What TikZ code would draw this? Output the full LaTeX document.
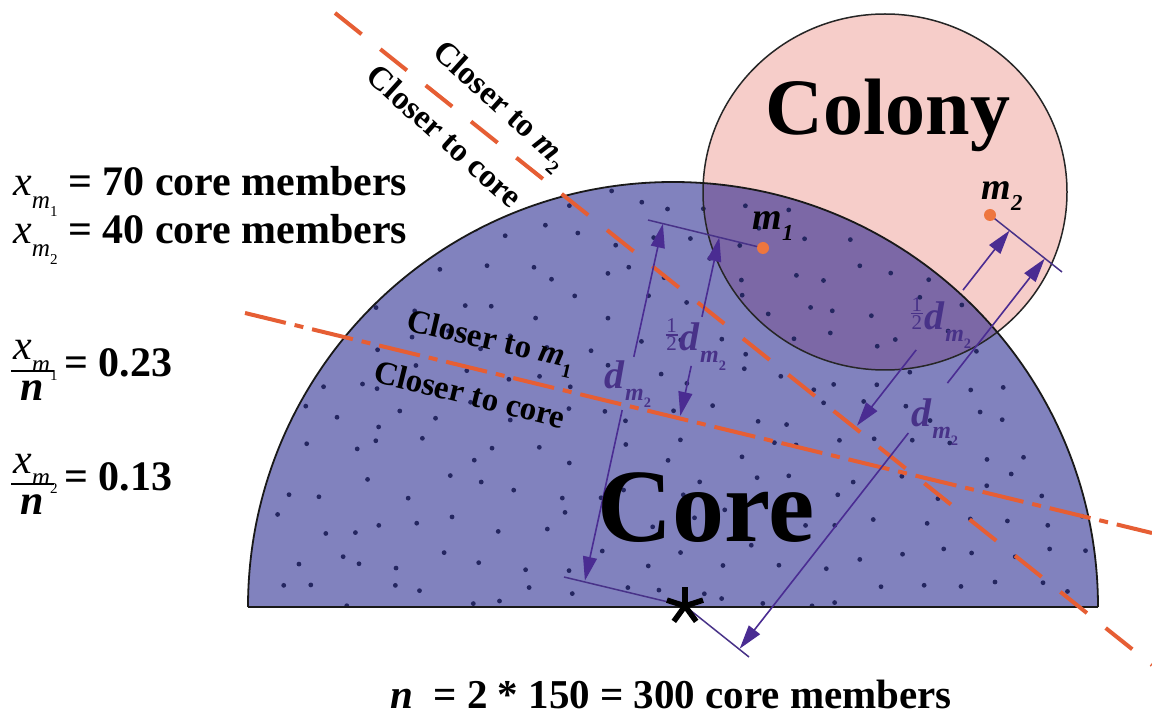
\documentclass[tikz,border=0pt]{standalone}
\usepackage{fontspec}
\usepackage{graphicx}
\setmainfont{Liberation Serif}
\usetikzlibrary{arrows.meta,calc}
\definecolor{corefill}{RGB}{129,130,190}
\definecolor{colfill}{RGB}{246,205,201}
\definecolor{overfill}{RGB}{124,104,166}
\definecolor{dotc}{RGB}{36,38,96}
\definecolor{redl}{RGB}{230,94,52}
\definecolor{arrc}{RGB}{74,44,146}
\definecolor{labc}{RGB}{72,50,136}
\definecolor{dotorange}{RGB}{238,118,62}
\newcommand{\sbs}[1]{\raisebox{-0.3em}{\scalebox{0.6}{#1}}}
\newcommand{\msub}[1]{\sbs{\textit{m}\sbs{#1}}}
\newcommand{\halfst}{{\fontsize{21}{21}\selectfont\mdseries\upshape\vbox{\hbox to 12pt{\hss 1\hss}\kern1.5pt\hrule height 1.4pt\kern1.5pt\hbox to 12pt{\hss 2\hss}}}\kern2pt}
\begin{document}
\begin{tikzpicture}[x=1pt,y=-1pt,
  redline/.style={draw=redl,line width=4pt},
  extline/.style={draw=labc,line width=1.5pt},
  dimarrow/.style={draw=arrc,line width=1.6pt,-{Triangle[length=24pt,width=14pt]}},
  lab/.style={text=labc,font=\fontsize{40}{40}\selectfont\bfseries,inner sep=0pt},
  mlab/.style={font=\fontsize{38}{38}\selectfont\bfseries\itshape,inner sep=0pt},
  closer/.style={font=\fontsize{33}{33}\selectfont\bfseries,inner sep=0pt},
  lefttext/.style={font=\fontsize{42}{48}\selectfont\bfseries,inner sep=0pt}]
\useasboundingbox (0,0) rectangle (1152,719);
\fill[white] (0,0) rectangle (1152,719);
% colony and core
\fill[colfill] (885,192) ellipse[x radius=182pt,y radius=178pt];
\fill[corefill] (248,607) -- (1098,607) arc[start angle=0,end angle=180,radius=425pt] -- cycle;
\begin{scope}
  \clip (248,607) -- (1098,607) arc[start angle=0,end angle=180,radius=425pt] -- cycle;
  \fill[overfill] (885,192) ellipse[x radius=182pt,y radius=178pt];
  \pgfmathsetseed{7}
  \foreach \gx in {0,...,22}{
    \foreach \gy in {0,...,11}{
      \pgfmathsetmacro{\px}{256+\gx*38+mod(\gy,2)*19+28*rnd-14}
      \pgfmathsetmacro{\py}{198+\gy*36+26*rnd-13}
      \fill[dotc] (\px,\py) circle[radius=2.4pt];
    }
  }
\end{scope}
\draw[line width=1.5pt,black!85] (885,192) ellipse[x radius=182pt,y radius=178pt];
\draw[line width=1.8pt,black!90] (1098,607) arc[start angle=0,end angle=180,radius=425pt];
\draw[line width=2.6pt,black!90] (248,607) -- (1098,607);
% key points
\coordinate (S) at (685,606);
\coordinate (M1) at (763,248);
\coordinate (M2) at (990,215);
\coordinate (L1a) at (245,313);
\coordinate (L1b) at (1152,533);
\coordinate (L2a) at (335,13);
\coordinate (L2b) at (1152,665);
% bisector lines
\draw[redline,dash pattern=on 42pt off 9pt on 9pt off 9pt] (L1a) -- (L1b);
\draw[redline,dash pattern=on 34pt off 24pt] (L2a) -- (L2b);
% extension lines
\coordinate (E1a) at (648,220);
\coordinate (E1b) at (564,577);
\coordinate (E2a) at (1062,272);
\coordinate (E2b) at (749,657);
\draw[extline] (M1) -- (E1a);
\draw[extline] (S) -- (E1b);
\draw[extline] (M2) -- (E2a);
\draw[extline] (S) -- (E2b);
% dimension arrows m1
\coordinate (A1b) at (584.9,580.7);
\coordinate (A1t) at (662.9,223.7);
\draw[dimarrow] ($(A1b)!0.478!(A1t)$) -- (A1b);
\draw[dimarrow] ($(A1b)!0.627!(A1t)$) -- (A1t);
\node[lab] (l1) at ($(A1b)!0.55!(A1t)$) {\textit{d}\msub{2}};
\coordinate (H1t) at (719.3,237.4);
\coordinate (H1b) at (680.3,415.9);
\draw[dimarrow] ($(H1t)!0.445!(H1b)$) -- (H1t);
\draw[dimarrow] ($(H1t)!0.72!(H1b)$) -- (H1b);
\node[lab] (h1) at ($(H1t)!0.6!(H1b)$) {\halfst\textit{d}\msub{2}};
% dimension arrows m2
\coordinate (A2b) at (739.7,648.7);
\coordinate (A2t) at (1044.7,258.7);
\draw[dimarrow] ($(A2b)!0.553!(A2t)$) -- (A2b);
\draw[dimarrow] ($(A2b)!0.681!(A2t)$) -- (A2t);
\node[lab] (l2) at (935,422) {\textit{d}\msub{2}};
\coordinate (H2t) at (1009.5,230.6);
\coordinate (H2b) at (857,425.6);
\draw[dimarrow] ($(H2t)!0.305!(H2b)$) -- (H2t);
\draw[dimarrow] ($(H2t)!0.612!(H2b)$) -- (H2b);
\node[lab] (h2) at (941,323) {\halfst\textit{d}\msub{2}};
% members
\fill[dotorange] (M1) circle[radius=6pt];
\fill[dotorange] (M2) circle[radius=6pt];
\node[mlab] (m1l) at (773,226) {m\sbs{1}};
\node[mlab] (m2l) at (1002,196) {m\sbs{2}};
% star
\foreach \a in {90,18,-54,-126,162} \draw[line width=5.5pt] (S) -- ++(\a:19pt);
% big labels
\node[font=\fontsize{104}{104}\selectfont\bfseries,anchor=base,inner sep=0pt] (core) at (706,541) {Core};
\node[font=\fontsize{80}{80}\selectfont\bfseries,anchor=base,inner sep=0pt] (colony) at (888,135) {Colony};
% region labels
\node[closer,rotate=-42] (c2a) at (499,107) {Closer to \textit{m}\sbs{2}};
\node[closer,rotate=-42] (c2b) at (445,136) {Closer to core};
\node[closer,rotate=-13] (c1a) at (490,343) {Closer to \textit{m}\sbs{1}};
\node[closer,rotate=-14] (c1b) at (470,394) {Closer to core};
% left texts
\node[lefttext,anchor=base west] (t1) at (13,196) {{\mdseries\itshape x}{\mdseries\msub{1}} = 70 core members};
\node[lefttext,anchor=base west] (t2) at (13,244) {{\mdseries\itshape x}{\mdseries\msub{2}} = 40 core members};
\node[lefttext,anchor=base west] (f1n) at (13,360) {{\mdseries\itshape x}{\mdseries\msub{1}}};
\coordinate (b1a) at (11,371); \coordinate (b1b) at (54,371);
\draw[line width=1.8pt] (b1a) -- (b1b);
\node[lefttext,anchor=base] (f1d) at (32,401) {\itshape n};
\node[lefttext,anchor=base west] (f1v) at (64,377) {= 0.23};
\node[lefttext,anchor=base west] (f2n) at (13,473) {{\mdseries\itshape x}{\mdseries\msub{2}}};
\coordinate (b2a) at (11,484); \coordinate (b2b) at (54,484);
\draw[line width=1.8pt] (b2a) -- (b2b);
\node[lefttext,anchor=base] (f2d) at (32,514) {\itshape n};
\node[lefttext,anchor=base west] (f2v) at (64,490) {= 0.13};
\node[lefttext,anchor=base,font=\fontsize{41}{48}\selectfont\bfseries] (bot) at (671,708) {\textit{n}\ \ = 2 * 150 = 300 core members};
\end{tikzpicture}
\end{document}
